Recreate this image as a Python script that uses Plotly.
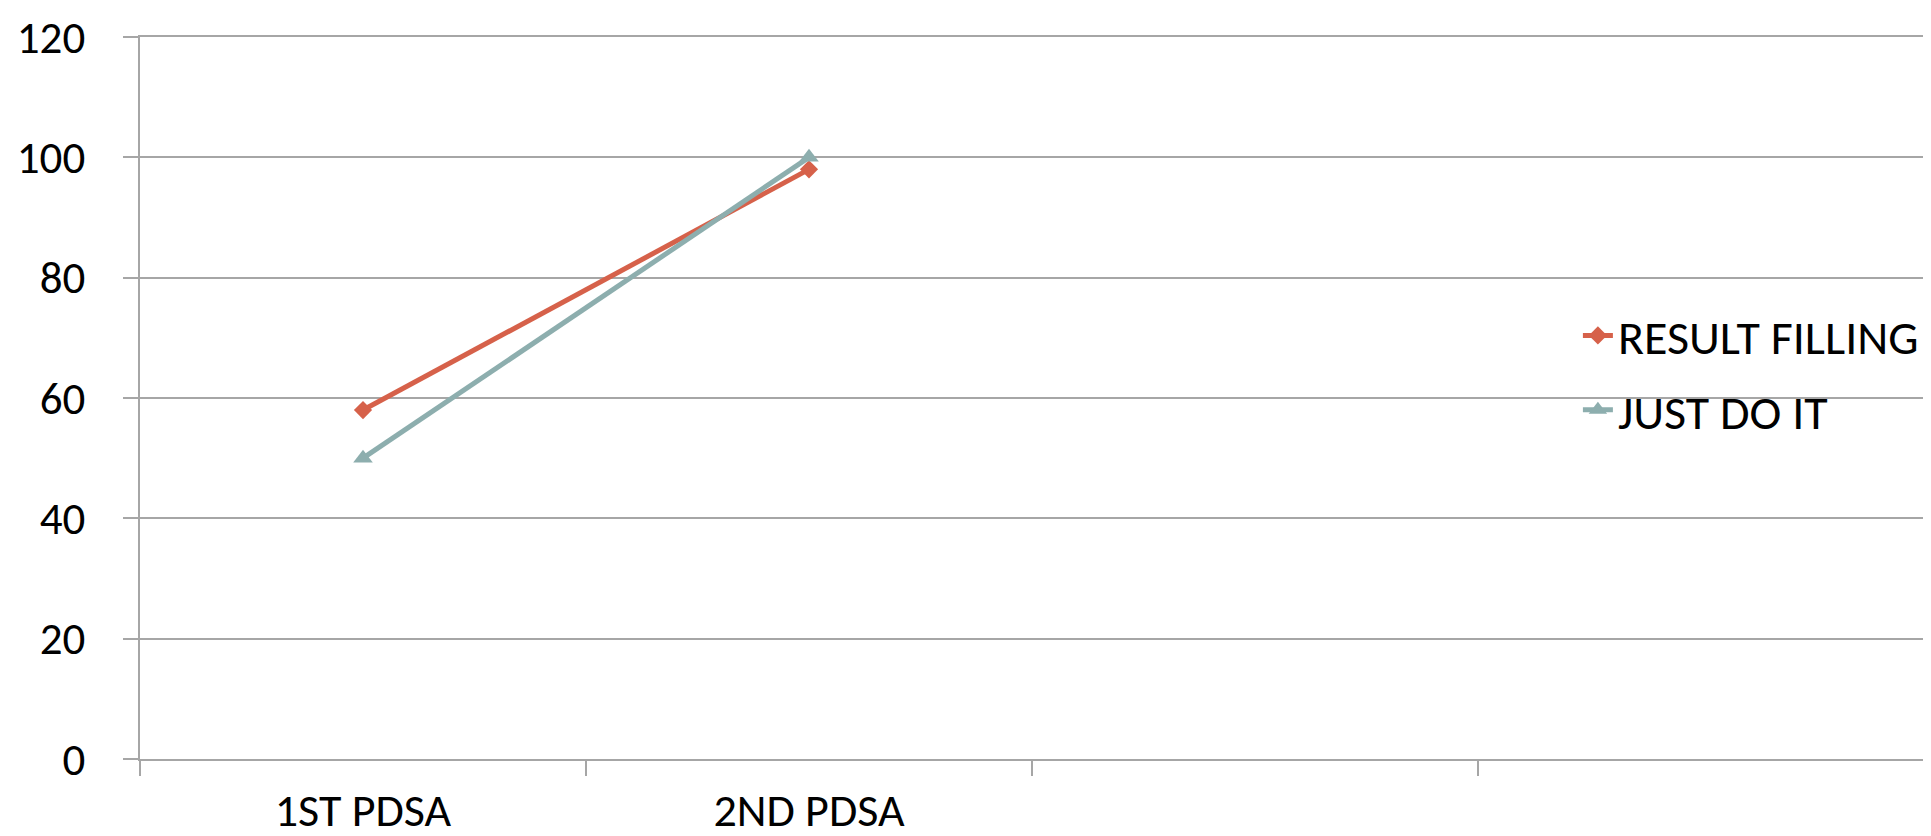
import plotly.graph_objects as go

categories = ["1ST PDSA", "2ND PDSA", " ", "  "]
x_points = ["1ST PDSA", "2ND PDSA"]
result_filling = [58, 98]
just_do_it = [50, 100]
y_ticks = [0, 20, 40, 60, 80, 100, 120]

FONT = "Carlito, Lato, sans-serif"
GRID = "#A6A6A6"

fig = go.Figure()
fig.add_trace(go.Scatter(
    x=x_points, y=result_filling, name="RESULT FILLING", mode="lines+markers",
    legendgroup="a",
    line=dict(color="#D6614A", width=5),
    marker=dict(symbol="diamond", size=14, color="#D6614A"),
))
fig.add_trace(go.Scatter(
    x=x_points, y=just_do_it, name="JUST DO IT", mode="lines+markers",
    legendgroup="b",
    line=dict(color="#8DAEAE", width=5),
    marker=dict(symbol="triangle-up", size=17, color="#8DAEAE"),
))

fig.update_layout(
    width=1931, height=836,
    margin=dict(l=132, r=15, t=29, b=85),
    paper_bgcolor="white", plot_bgcolor="white",
    font=dict(family=FONT, size=46, color="black"),
    showlegend=True,
    legend=dict(x=0.806, y=0.535, xanchor="left", yanchor="middle",
                bgcolor="rgba(0,0,0,0)", font=dict(size=48),
                tracegroupgap=9),
    xaxis=dict(
        type="category", categoryorder="array", categoryarray=categories,
        range=[-0.5, 3.5], tickson="boundaries", ticks="outside",
        ticklen=15, tickcolor=GRID, tickwidth=1.5, showgrid=False,
        showline=True, mirror=True, linecolor=GRID, linewidth=1.5,
        zeroline=False, automargin=False,
        ticklabelstandoff=10,
        tickfont=dict(size=46),
    ),
    yaxis=dict(
        range=[0, 120], tickvals=y_ticks, showgrid=True, gridcolor=GRID,
        gridwidth=1.5, ticks="outside", ticklen=15, tickcolor=GRID,
        tickwidth=1.5, showline=True, linecolor=GRID, linewidth=1.5,
        zeroline=False, automargin=False, ticklabelstandoff=29,
        ticklabeloverflow="allow",
        tickfont=dict(size=45),
    ),
)

fig.write_html("out.html")
